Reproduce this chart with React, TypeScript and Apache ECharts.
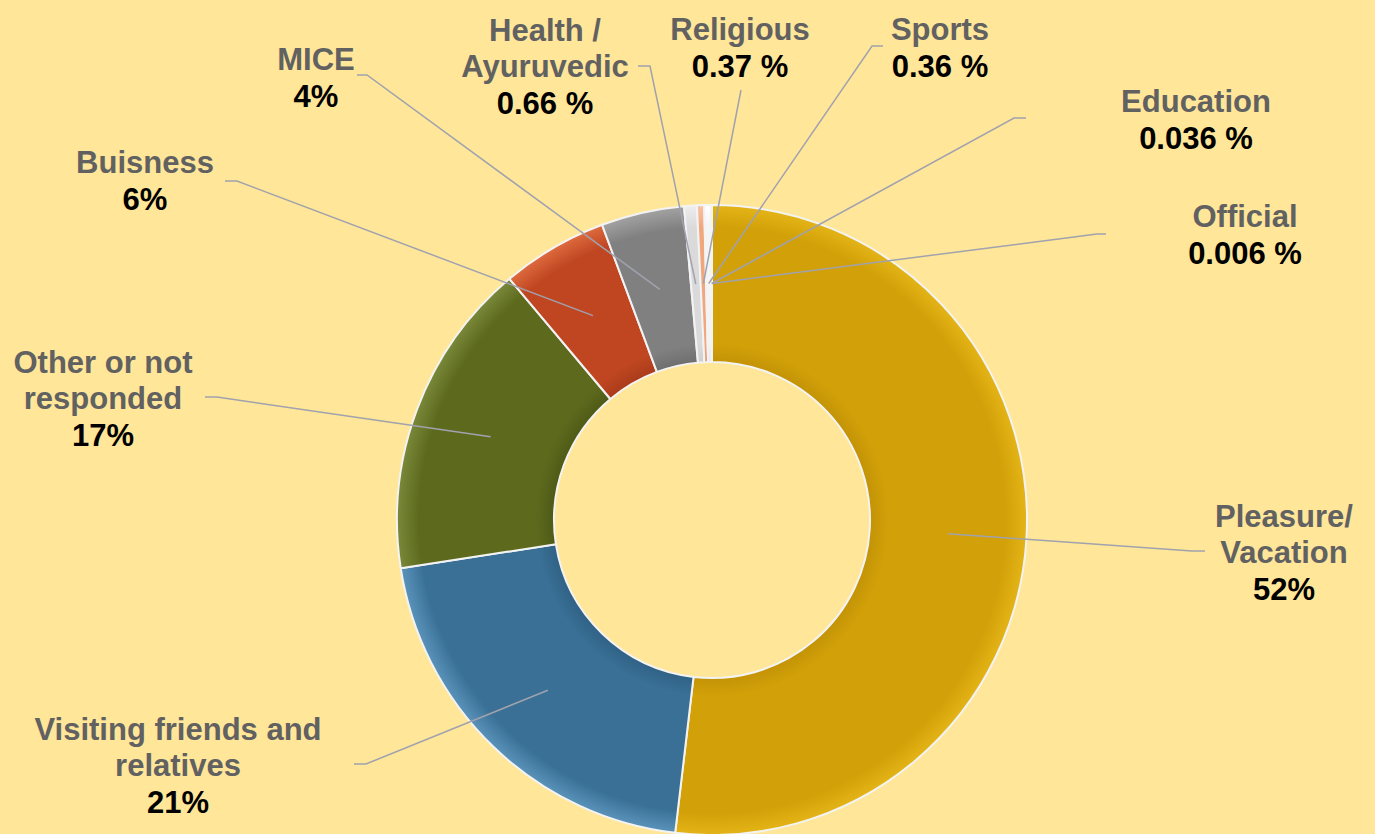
import React, { useEffect, useRef } from "react";
import * as echarts from "echarts";

const categories = [
  "Pleasure/\nVacation",
  "Visiting friends and\nrelatives",
  "Other or not\nresponded",
  "Buisness",
  "MICE",
  "Health /\nAyuruvedic",
  "Religious",
  "Sports",
  "Education",
  "Official",
];
// slice sizes (they round to the printed labels)
const values = [52.4, 20.9, 16.5, 5.5, 4.3, 0.66, 0.37, 0.36, 0.036, 0.006];
const percentLabels = ["52%", "21%", "17%", "6%", "4%", "0.66 %", "0.37 %", "0.36 %", "0.036 %", "0.006 %"];

const sliceColors = [
  ["#E3B417", "#D2A008", "#C39307"],
  ["#5A93BA", "#3A7096", "#2F6184"],
  ["#7A883A", "#5D6A1D", "#4E5A16"],
  ["#DE6A3E", "#BF4621", "#A93B1A"],
  ["#A2A2A2", "#808080", "#6E6E6E"],
  ["#EDEDED", "#DADADA", "#CFCFCF"],
  ["#F7C4A6", "#F0A77E", "#E09670"],
  ["#FFFFFF", "#F4F4F4", "#E6E6E6"],
  ["#F0F0F0", "#E2E2E2", "#D6D6D6"],
  ["#FFFFFF", "#F7F7F7", "#EAEAEA"],
];

// layout (pixel positions of labels and label-line bends/ends)
const CX = 712;
const CY = 520;
const R_IN = 158;
const R_OUT = 315;
const labelXY = [
  [1284, 553],
  [178, 766],
  [103, 399],
  [145, 181],
  [316, 78],
  [545, 67],
  [740, 48],
  [940, 48],
  [1196, 120],
  [1245, 235],
];
const lineBend = [
  [1192, 551],
  [366, 764],
  [217, 397],
  [237, 181],
  [367, 75],
  [650, 66],
  [741, 90],
  [872, 46],
  [1014, 118],
  [1097, 234],
];
const lineEnd = [
  [1205, 551],
  [354, 764],
  [205, 397],
  [225, 181],
  [357, 75],
  [638, 66],
  [741, 90],
  [883, 46],
  [1026, 118],
  [1106, 234],
];

const FONT = "Liberation Sans, Arial, sans-serif";

export default function App() {
  const ref = useRef<HTMLDivElement>(null);
  useEffect(() => {
    if (!ref.current) return;
    const chart = echarts.init(ref.current, null, { renderer: "svg" });
    const total = values.reduce((a, b) => a + b, 0);
    const midAngles: number[] = [];
    let cum = 0;
    values.forEach((v) => {
      midAngles.push(((cum + v / 2) / total) * Math.PI * 2);
      cum += v;
    });
    const rm = (R_IN + R_OUT) / 2;
    const ringData = categories.map((name, i) => ({
      name,
      value: values[i],
      itemStyle: {
        color: new echarts.graphic.RadialGradient(
          CX,
          CY,
          R_OUT,
          [
            { offset: 0.5, color: sliceColors[i][2] },
            { offset: 0.56, color: sliceColors[i][1] },
            { offset: 0.93, color: sliceColors[i][1] },
            { offset: 1, color: sliceColors[i][0] },
          ],
          true
        ),
      },
    }));
    const labelData = categories.map((name, i) => ({ name, value: values[i] }));
    const common = {
      type: "pie",
      center: [CX, CY],
      radius: [R_IN, R_OUT],
      startAngle: 90,
      clockwise: true,
      avoidLabelOverlap: false,
      silent: true,
      emphasis: { disabled: true },
    };
    chart.setOption({
      animation: false,
      backgroundColor: "#FFE699",
      series: [
        {
          ...common,
          z: 2,
          itemStyle: { borderColor: "#F3F3F3", borderWidth: 2 },
          label: { show: false },
          labelLine: { show: false },
          data: ringData,
        },
        {
          ...common,
          z: 3,
          itemStyle: { color: "rgba(0,0,0,0)", borderWidth: 0 },
          label: {
            show: true,
            position: "outside",
            formatter: (p: any) => `{n|${p.name}}\n{p|${percentLabels[p.dataIndex]}}`,
            rich: {
              n: {
                fontFamily: FONT,
                fontWeight: "bold",
                fontSize: 31,
                lineHeight: 36,
                color: "#616161",
                align: "center",
              },
              p: {
                fontFamily: FONT,
                fontWeight: "bold",
                fontSize: 31,
                lineHeight: 37,
                color: "#000000",
                align: "center",
              },
            },
          },
          labelLine: {
            show: true,
            length: 10,
            length2: 10,
            lineStyle: { color: "#A0A2AE", width: 1.5 },
          },
          labelLayout: (params: any) => {
            const i = params.dataIndex;
            const a = midAngles[i];
            const start = [CX + rm * Math.sin(a), CY - rm * Math.cos(a)];
            return {
              x: labelXY[i][0],
              y: labelXY[i][1],
              align: "center",
              verticalAlign: "middle",
              labelLinePoints: [start, lineBend[i], lineEnd[i]],
            };
          },
          data: labelData,
        },
      ],
    });
    return () => chart.dispose();
  }, []);
  return (
    <div
      ref={ref}
      style={{ position: "absolute", left: 0, top: 0, width: 1375, height: 834 }}
    />
  );
}
